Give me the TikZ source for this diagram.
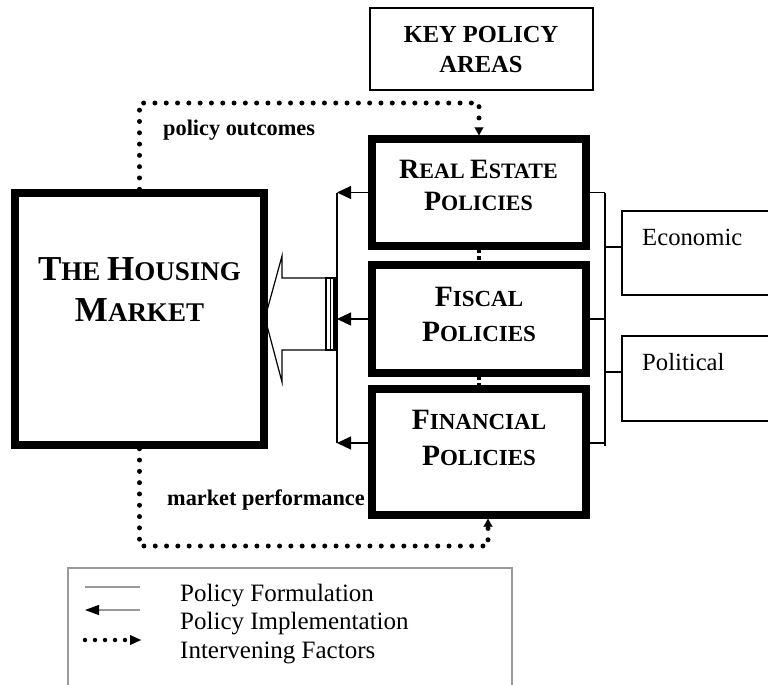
\documentclass[tikz,border=0pt]{standalone}
\usepackage{fontspec}
\setmainfont{Liberation Serif}
\usetikzlibrary{arrows.meta,calc}
\newcommand{\fs}[1]{\fontsize{#1}{#1}\selectfont}
\begin{document}
\begin{tikzpicture}[x=1pt,y=-1pt,
  thickbox/.style={draw,line width=7.5pt,inner sep=0pt,rectangle},
  thinbox/.style={draw,line width=1.2pt,inner sep=0pt,rectangle},
  conn/.style={line width=1.2pt},
  impl/.style={line width=1.2pt,-{Triangle[length=14pt,width=13pt]}},
  dotline/.style={line width=5pt,line cap=round,dash pattern=on 0pt off 11.3pt,
     -{Triangle[length=8pt,width=9pt,line width=0.1pt]}},
  lbl/.style={anchor=base,inner sep=0pt},
  lblw/.style={anchor=base west,inner sep=0pt},
]
\useasboundingbox (0,0) rectangle (768,685);
\clip (0,0) rectangle (768,685);

% boxes
\node[thinbox,minimum width=223pt,minimum height=82pt] (key) at (481.5,49) {};
\node[thickbox,minimum width=249pt,minimum height=252pt] (hm) at (139.5,319) {};
\node[thickbox,minimum width=214pt,minimum height=107pt] (re) at (479,192.5) {};
\node[thickbox,minimum width=214pt,minimum height=108pt] (fis) at (479,319) {};
\node[thickbox,minimum width=214pt,minimum height=126pt] (fin) at (479,452) {};
\node[thinbox,minimum width=178pt,minimum height=84pt] (econ) at (711,253) {};
\node[thinbox,minimum width=178pt,minimum height=85pt] (pol) at (711,378.5) {};

% texts
\node[lbl] (keyA) at (481,43) {\bfseries\fs{24.5}KEY POLICY};
\node[lbl] (keyB) at (481,72) {\bfseries\fs{24.5}AREAS};
\node[lbl] (hmA) at (139.5,280) {\bfseries\fs{35}T\fs{27}HE \fs{35}H\fs{27}OUSING};
\node[lbl] (hmB) at (139.5,321) {\bfseries\fs{35}M\fs{27}ARKET};
\node[lbl] (reA) at (478.5,178) {\bfseries\fs{28}R\fs{22}EAL \fs{28}E\fs{22}STATE};
\node[lbl] (reB) at (478.5,210) {\bfseries\fs{28}P\fs{22}OLICIES};
\node[lbl] (fisA) at (479,306) {\bfseries\fs{29.5}F\fs{23}ISCAL};
\node[lbl] (fisB) at (479,341) {\bfseries\fs{29.5}P\fs{23}OLICIES};
\node[lbl] (finA) at (479,429) {\bfseries\fs{29.5}F\fs{23}INANCIAL};
\node[lbl] (finB) at (479,465) {\bfseries\fs{29.5}P\fs{23}OLICIES};
\node[lblw] (econT) at (642,245) {\fs{24.7}Economic};
\node[lblw] (polT) at (642,370) {\fs{24.7}Political};
\node[lblw] (po) at (163,135) {\bfseries\fs{22.3}policy outcomes};
\node[lblw] (mp) at (167,505) {\bfseries\fs{22.3}market performance};

% dashes between policy boxes
\draw[line width=4pt,dash pattern=on 3.5pt off 3pt] (re.south) -- (fis.north);
\draw[line width=4pt,dash pattern=on 3.5pt off 3pt] (fis.south) -- (fin.north);

% implementation arrows (left bus)
\coordinate (lbus) at (337,0);
\coordinate (finL) at ([yshift=9pt]fin.west);
\draw[impl] (re.west) -- (re.west -| lbus);
\draw[impl] (fis.west) -- (fis.west -| lbus);
\draw[impl] (finL) -- (finL -| lbus);
\draw[conn] (re.west -| lbus) -- (finL -| lbus);

% big hollow arrow with striped tail
\draw[line width=1.2pt,line join=miter] (265,318) -- (282,256) -- (282,278) -- (326,278)
   -- (326,350) -- (282,350) -- (282,382) -- cycle;
\draw[line width=1.2pt] (326,278) rectangle (336,350);
\draw[line width=1.2pt] (330.5,278) -- (330.5,350);
\fill (333,278) rectangle (336.5,350);

% formulation connectors (right bus)
\coordinate (rbus) at (605,0);
\coordinate (finR) at ([yshift=9pt]fin.east);
\coordinate (rbusend) at (605,446);
\draw[conn] (re.east) -- (re.east -| rbus);
\draw[conn] (fis.east) -- (fis.east -| rbus);
\draw[conn] (finR) -- (finR -| rbus);
\draw[conn] (re.east -| rbus) -- (rbusend);
\coordinate (econL) at ([yshift=6pt]econ.west);
\coordinate (polL) at ([yshift=6.5pt]pol.west);
\draw[conn] (econL) -- (econL -| rbus);
\draw[conn] (polL) -- (polL -| rbus);

% intervening factors dotted loops
\coordinate (topc) at (479,103);
\draw[dotline] (hm.north) |- (topc) -- (re.north);
\coordinate (botc) at (488,546);
\draw[dotline] (hm.south) |- (botc) -- (botc |- fin.south);

% legend
\node[draw=gray!80,line width=1.2pt,inner sep=0pt,minimum width=444pt,minimum height=150pt] (leg) at (290,643) {};
\coordinate (l1a) at (85,587); \coordinate (l1b) at (140,587);
\coordinate (l2a) at (140,610); \coordinate (l2b) at (85,610);
\coordinate (l3a) at (85,640); \coordinate (l3b) at (141,640);
\draw[gray!80,line width=1.2pt] (l1a) -- (l1b);
\draw[gray!80,line width=1.2pt,-{Triangle[length=14pt,width=10pt,color=black]}] (l2a) -- (l2b);
\draw[line width=4.5pt,line cap=round,dash pattern=on 0pt off 10pt,
     -{Triangle[length=11pt,width=10pt,line width=0.1pt]}] (l3a) -- (l3b);
\node[lblw] (legA) at (180,601) {\fs{25}Policy Formulation};
\node[lblw] (legB) at (180,629) {\fs{25}Policy Implementation};
\node[lblw] (legC) at (180,658) {\fs{25}Intervening Factors};
\end{tikzpicture}
\end{document}
